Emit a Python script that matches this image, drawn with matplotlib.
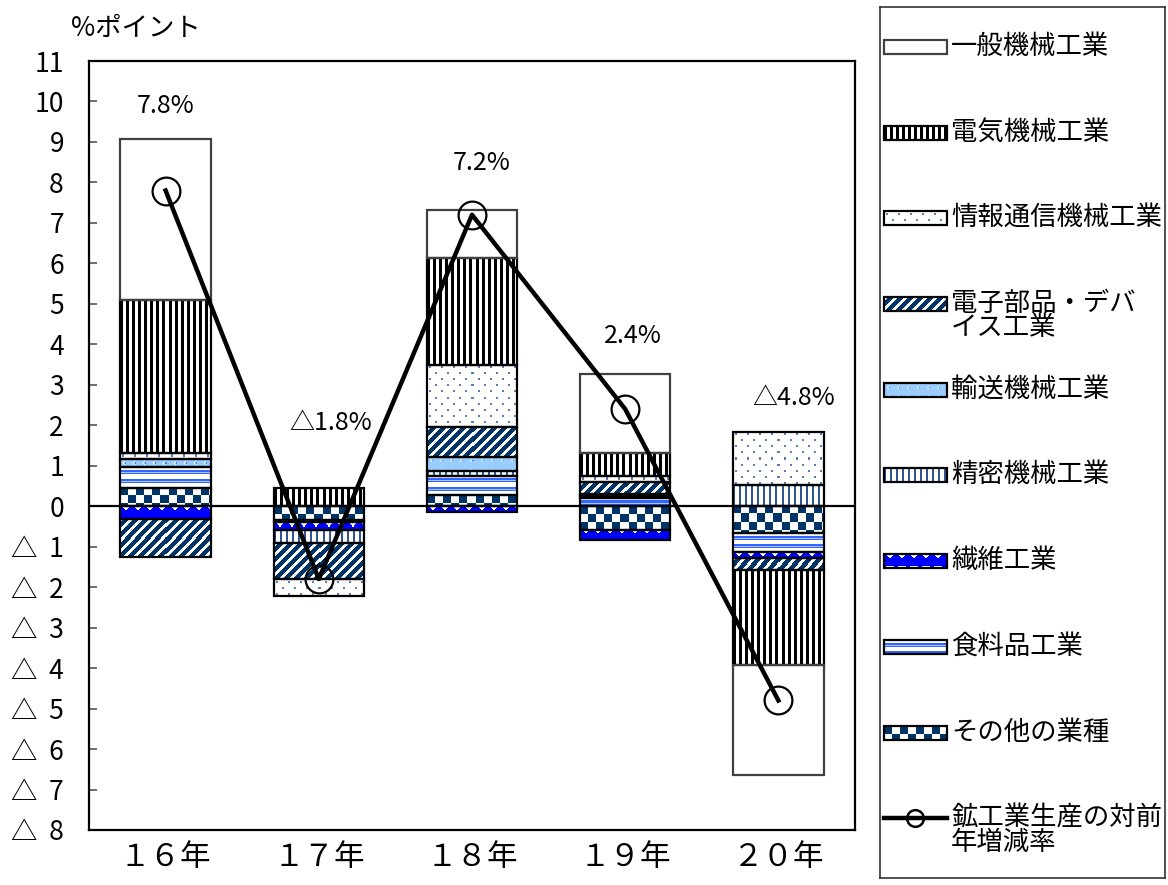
import numpy as np
import matplotlib
matplotlib.use("Agg")
import matplotlib.pyplot as plt
from matplotlib.patches import Rectangle
from matplotlib.colors import to_rgb

plt.rcParams['font.family'] = ['Noto Sans CJK JP', 'DejaVu Sans']

# ---------------- data ----------------
years = ['１６年', '１７年', '１８年', '１９年', '２０年']
total_rate = [7.8, -1.8, 7.2, 2.4, -4.8]
rate_labels = ['7.8%', '△1.8%', '7.2%', '2.4%', '△4.8%']

# stacked contributions (percentage points), stacking order from zero outward
other = [0.46, -0.35, 0.27, -0.59, -0.67]
food = [0.50, -0.05, 0.47, 0.20, -0.46]
textile = [-0.31, -0.18, -0.14, -0.25, -0.14]
precision = [0.0, -0.33, 0.13, 0.05, 0.52]
transport = [0.20, 0.0, 0.35, 0.05, 0.0]
electronic = [-0.94, -0.88, 0.73, 0.29, -0.30]
infocomm = [0.15, -0.42, 1.54, 0.15, 1.32]
electrical = [3.79, 0.44, 2.64, 0.58, -2.35]
general = [3.97, 0.0, 1.20, 1.94, -2.72]

names = {
    'general': '一般機械工業',
    'electrical': '電気機械工業',
    'infocomm': '情報通信機械工業',
    'electronic': '電子部品・デバ\nイス工業',
    'transport': '輸送機械工業',
    'precision': '精密機械工業',
    'textile': '繊維工業',
    'food': '食料品工業',
    'other': 'その他の業種',
}
line_name = '鉱工業生産の対前\n年増減率'

yticks = list(range(-8, 12))
ytick_labels = [str(v) if v >= 0 else '△  ' + str(-v) for v in yticks]

# ---------------- textures ----------------
W = np.array(to_rgb('white'))
K = np.array(to_rgb('black'))
NAVY = np.array(to_rgb('#003366'))


def tile_from(fn, h, w):
    t = np.zeros((h, w, 3))
    for r in range(h):
        for c in range(w):
            t[r, c] = fn(r, c)
    return t


tiles = {
    'general': tile_from(lambda r, c: W, 1, 1),
    'electrical': tile_from(lambda r, c: K if c % 6 < 3 else W, 1, 6),
    'infocomm': tile_from(lambda r, c: np.array(to_rgb('#5a7fb0'))
                          if ((r in (2, 3) and c in (2, 3)) or (r in (8, 9) and c in (8, 9))) else W, 12, 12),
    'electronic': tile_from(lambda r, c: W if (c + r) % 10 < 4 else NAVY, 10, 10),
    'transport': tile_from(lambda r, c: W if ((r, c) in [(3, 4), (4, 3), (5, 4)]) else
                           (np.array(to_rgb('#4f7fc0')) if (r, c) == (4, 5) else np.array(to_rgb('#99ccff'))), 9, 10),
    'precision': tile_from(lambda r, c: np.array(to_rgb('#2f5597')) if c % 6 < 2 else W, 1, 6),
    'textile': tile_from(lambda r, c: W if ((r == 0 and 2 <= c <= 9) or (r == 1 and 3 <= c <= 8)
                                            or (r == 2 and 4 <= c <= 7) or (r == 3 and 5 <= c <= 6))
                         else np.array(to_rgb('#0000ff')), 12, 12),
    'food': tile_from(lambda r, c: [W, W, W, np.array(to_rgb('#3366ff')), np.array(to_rgb('#3366ff')),
                                    np.array(to_rgb('#a8c4ff')), np.array(to_rgb('#3366ff')), W][r % 8], 8, 1),
    'other': tile_from(lambda r, c: NAVY if ((r // 8) + (c // 8)) % 2 == 0 else W, 16, 16),
}

FIG_W, FIG_H = 1168, 885
fig = plt.figure(figsize=(FIG_W / 100, FIG_H / 100), dpi=100)


def texture(axx, patch, tile, zorder):
    bb = patch.get_window_extent()
    w = int(round(bb.width))
    h = int(round(bb.height))
    if w < 1 or h < 1:
        return
    ty, tx = tile.shape[:2]
    rows = np.arange(h) % ty
    cols = np.arange(w) % tx
    img = tile[rows][:, cols]
    inv = axx.transData.inverted()
    xa, ya = inv.transform((bb.x0, bb.y0))
    xb, yb = inv.transform((bb.x1, bb.y1))
    im = axx.imshow(img, extent=(xa, xb, ya, yb), origin='upper', interpolation='nearest',
                    aspect='auto', zorder=zorder)
    im.set_clip_path(patch)


# ---------------- main axes ----------------
ax = fig.add_axes([89 / FIG_W, 55 / FIG_H, 766 / FIG_W, 769 / FIG_H])
ax.set_xlim(-0.5, 4.5)
ax.set_ylim(-8, 11)
ax.set_autoscale_on(False)

x = np.arange(len(years))
stack = [('other', other), ('food', food), ('textile', textile), ('precision', precision),
         ('transport', transport), ('electronic', electronic), ('infocomm', infocomm),
         ('electrical', electrical), ('general', general)]

pos_base = np.zeros(len(years))
neg_base = np.zeros(len(years))
for key, vals in stack:
    v = np.array(vals, dtype=float)
    bottoms = np.where(v >= 0, pos_base, neg_base)
    edge = '#404040' if key == 'general' else 'black'
    bars = ax.bar(x, v, width=0.59, bottom=bottoms, facecolor='none', edgecolor=edge,
                  linewidth=1.6, zorder=3)
    for b, val in zip(bars, v):
        if val == 0:
            b.set_visible(False)
        else:
            texture(ax, b, tiles[key], 2)
    pos_base += np.where(v > 0, v, 0)
    neg_base += np.where(v < 0, v, 0)

ax.axhline(0, color='black', lw=1.6, zorder=4)
ax.plot(x, total_rate, color='black', lw=3.2, marker='o', ms=20, mfc='none', mec='black',
        mew=1.6, zorder=5)

label_dx = [0.0, 0.08, 0.06, 0.05, 0.10]
label_y = [9.88, 2.06, 8.49, 4.21, 2.68]
for i, t in enumerate(rate_labels):
    ax.text(x[i] + label_dx[i], label_y[i], t, ha='center', va='center', fontsize=18)

ax.set_yticks(yticks)
ax.set_yticklabels(ytick_labels, fontsize=19)
ax.set_xticks(x)
ax.set_xticklabels(years, fontsize=22)
ax.tick_params(axis='y', direction='in', length=6, width=1.2, color='#555555', pad=18)
ax.tick_params(axis='x', length=0, pad=9)
for s in ax.spines.values():
    s.set_linewidth(1.6)
    s.set_color('black')

fig.text(136 / FIG_W, 1 - 28 / FIG_H, '%ポイント', ha='center', va='center', fontsize=19)

# ---------------- legend ----------------
lax = fig.add_axes([880 / FIG_W, 7 / FIG_H, 285 / FIG_W, 871 / FIG_H])
lax.set_xlim(880, 1165)
lax.set_ylim(878, 7)
lax.set_autoscale_on(False)
lax.set_xticks([])
lax.set_yticks([])
for s in lax.spines.values():
    s.set_linewidth(1.2)
    s.set_color('#333333')

legend_order = ['general', 'electrical', 'infocomm', 'electronic', 'transport',
                'precision', 'textile', 'food', 'other']
entry_y = [47, 133, 218, 304, 390, 475, 561, 647, 733, 818]


def legend_text(yy, label):
    lax.text(951, yy - 14, label, ha='left', va='top', fontsize=19, linespacing=0.88)


for key, yy in zip(legend_order, entry_y):
    edge = '#404040' if key == 'general' else 'black'
    r = Rectangle((884, yy - 7), 63, 14, facecolor='none', edgecolor=edge, lw=1.6, zorder=3)
    lax.add_patch(r)
    texture(lax, r, tiles[key], 2)
    legend_text(yy, names[key])

yy = entry_y[-1]
lax.plot([884, 947], [yy, yy], color='black', lw=3.2)
lax.plot([915.5], [yy], marker='o', ms=12, mfc='none', mec='black', mew=1.8)
legend_text(yy, line_name)

fig.savefig('out.png', dpi=100)
